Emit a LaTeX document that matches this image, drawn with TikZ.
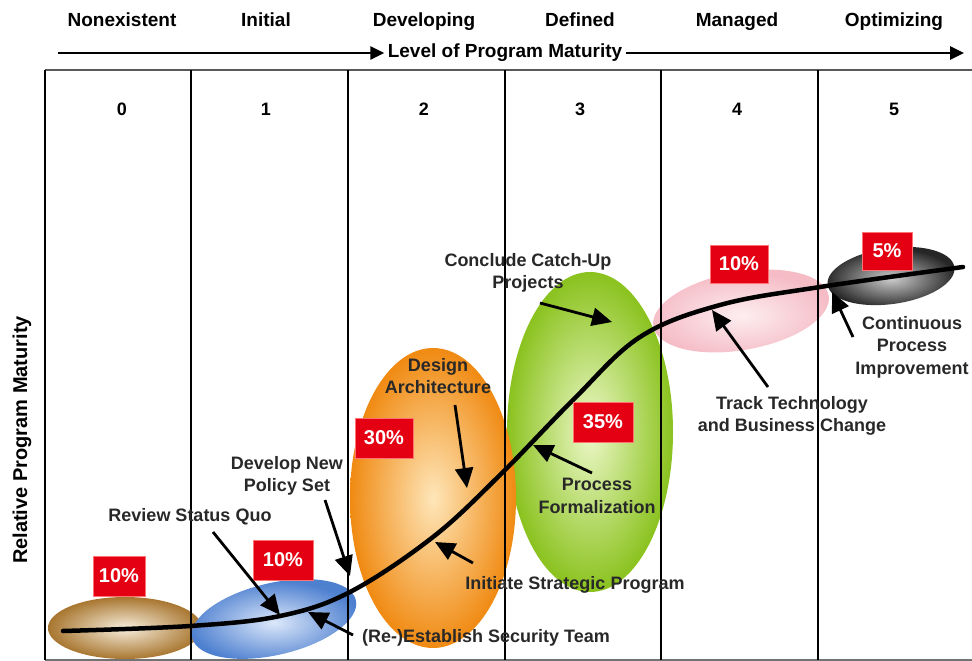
\documentclass[tikz,border=0pt]{standalone}
\usepackage{fontspec}
\setmainfont{Liberation Sans}
\usetikzlibrary{arrows.meta}
\usetikzlibrary{calc}
\definecolor{boxred}{RGB}{228,0,18}
\definecolor{labelgray}{RGB}{40,40,40}

\tikzset{
  phase/.style={font=\fontsize{19}{22}\selectfont\bfseries},
  level/.style={font=\fontsize{18}{21}\selectfont\bfseries},
  pct/.style={fill=boxred, draw=red!55!white, line width=0.8pt, text=white,
    font=\fontsize{20}{24}\selectfont\bfseries,
    minimum width=58pt, minimum height=40pt, inner sep=0pt},
  note/.style={font=\fontsize{18}{22.5}\selectfont\bfseries, text=labelgray,
    align=center, inner sep=2pt},
  pointer/.style={line width=2.8pt, -{Triangle[length=20pt,width=18pt]}},
  axisline/.style={line width=2.8pt, -{Triangle[length=14pt,width=13pt]}},
  grid/.style={line width=1.2pt},
}

\begin{document}
\begin{tikzpicture}[x=1pt, y=-1pt]
    \useasboundingbox (0,0) rectangle (972,661);

    % phases of the maturity scale
    \foreach \x/\name/\txt in {122/ph0/Nonexistent, 266/ph1/Initial, 424/ph2/Developing,
        580/ph3/Defined, 737/ph4/Managed, 894/ph5/Optimizing}
        \node[phase, anchor=base] (\name) at (\x,27) {\txt};

    \node[phase] (maturity) at (505,53) {Level of Program Maturity};
    \coordinate (axstart) at (58,53);
    \coordinate (axend) at (964,53);
    \draw[axisline] (axstart) -- (maturity.west);
    \draw[axisline] (maturity.east) -- (axend);

    \node[phase, font=\fontsize{20}{24}\selectfont\bfseries, rotate=90] (yaxis) at (22,440) {Relative Program Maturity};

    % ellipses
    \shade[inner color={rgb,255:red,247;green,238;blue,220}, outer color={rgb,255:red,168;green,118;blue,48}]
        (125,628) ellipse [x radius=77, y radius=31];
    \shade[inner color={rgb,255:red,220;green,232;blue,250}, outer color={rgb,255:red,78;green,128;blue,208},
        rotate around={13:(274,619)}] (274,619) ellipse [x radius=84, y radius=36];
    \shade[inner color={rgb,255:red,253;green,238;blue,240}, outer color={rgb,255:red,245;green,188;blue,198},
        rotate around={10:(741,311)}] (741,311) ellipse [x radius=89, y radius=39];
    \shade[inner color={rgb,255:red,236;green,248;blue,200}, outer color={rgb,255:red,138;green,194;blue,30}]
        (590,432) ellipse [x radius=83, y radius=160];
    \shade[inner color={rgb,255:red,254;green,230;blue,185}, outer color={rgb,255:red,240;green,138;blue,18}]
        (433,498) ellipse [x radius=83, y radius=150];
    \shade[inner color={rgb,255:red,205;green,205;blue,205}, outer color={rgb,255:red,38;green,38;blue,38},
        rotate around={8:(891,276)}] (891,276) ellipse [x radius=64, y radius=28];

    % table frame
    \draw[line width=1.8pt, black!65] (45,70) -- (972,70);
    \draw[line width=1.2pt, black!55] (45,660) -- (972,660);
    \foreach \x in {45,191,348,505,661,818}
        \draw[grid] (\x,70) -- (\x,660);

    \foreach \x/\n in {122/0, 266/1, 424/2, 580/3, 737/4, 894/5}
        \node[level] (num\n) at (\x,109) {\n};

    % maturity curve
    \draw[line width=4.5pt, line cap=round] plot[smooth, tension=0.6] coordinates {
        (63,631) (190,626) (280,616) (350,592) (433,537) (500,475)
        (573,400) (640,337) (720,305) (820,287) (963,267)};

    % shares
    \node[pct, minimum width=52pt] (share0) at (119,576) {10\%};
    \node[pct, minimum width=60pt] (share1) at (283,560) {10\%};
    \node[pct] (share2) at (384,438) {30\%};
    \node[pct, minimum width=60pt] (share3) at (603,422) {35\%};
    \node[pct, minimum height=38pt] (share4) at (739,264) {10\%};
    \node[pct, minimum width=50pt, minimum height=38pt] (share5) at (887,251) {5\%};

    % activities
    \node[note] (review) at (190,517) {Review Status Quo};
    \node[note] (policy) at (287,476) {Develop New\\Policy Set};
    \node[note] (team) at (486,638) {(Re-)Establish Security Team};
    \node[note] (design) at (438,376) {Design\\Architecture};
    \node[note] (catchup) at (528,273) {Conclude Catch-Up\\Projects};
    \node[note] (formal) at (597,496) {Process\\Formalization};
    \node[note] (initiate) at (575,585) {Initiate Strategic Program};
    \node[note] (track) at (792,416) {Track Technology\\and Business Change};
    \node[note] (improve) at (912,347) {Continuous\\Process\\Improvement};

    \coordinate (reviewtip) at (280,615);
    \coordinate (policytip) at (350,576);
    \coordinate (teamtip) at (308,612);
    \coordinate (designtip) at (467,488);
    \coordinate (catchuptip) at (612,322);
    \coordinate (formaltip) at (533,445);
    \coordinate (initiatetip) at (435,542);
    \coordinate (tracktip) at (712,310);
    \coordinate (improvetip) at (832,292);

    \draw[pointer] ($(review)+(23,15)$) -- (reviewtip);
    \draw[pointer] ($(policy)+(38,24)$) -- (policytip);
    \draw[pointer] ($(team)+(-133,-3)$) -- (teamtip);
    \draw[pointer] ($(design)+(17,29)$) -- (designtip);
    \draw[pointer] ($(catchup)+(12,30)$) -- (catchuptip);
    \draw[pointer] ($(formal)+(-5,-23)$) -- (formaltip);
    \draw[pointer] ($(initiate)+(-102,-22)$) -- (initiatetip);
    \draw[pointer] ($(track)+(-24,-29)$) -- (tracktip);
    \draw[pointer] ($(improve)+(-59,-10)$) -- (improvetip);
\end{tikzpicture}
\end{document}
